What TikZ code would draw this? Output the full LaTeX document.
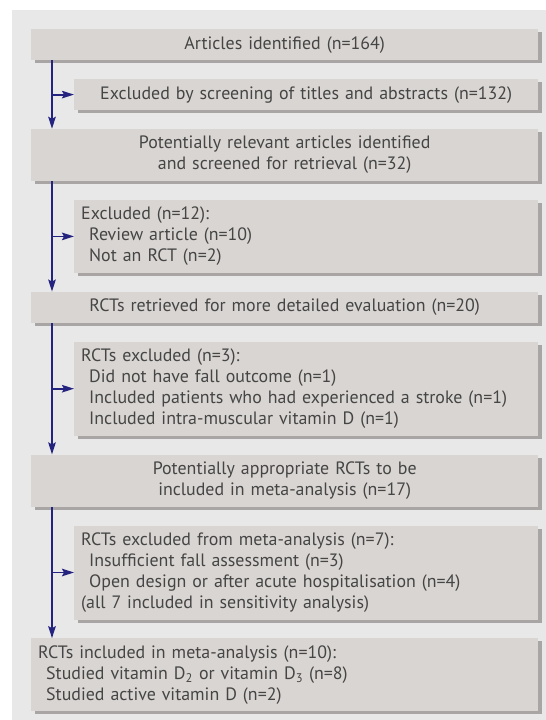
\documentclass[tikz,border=0pt]{standalone}
\usepackage{fontspec}
\setmainfont{PT Sans}
\usetikzlibrary{positioning,arrows.meta,shadows}

\definecolor{panelgray}{HTML}{E8E8E8}
\definecolor{boxgray}{HTML}{D9D5D2}
\definecolor{shadowgray}{HTML}{A9A5A5}
\definecolor{textgray}{HTML}{454545}
\definecolor{flowblue}{HTML}{24237F}

\tikzset{
  every node/.style={font=\fontsize{17.9}{21}\selectfont, text=textgray},
  box/.style={fill=boxgray, inner xsep=7pt, inner ysep=3pt,
    general shadow={fill=shadowgray, shadow xshift=4pt, shadow yshift=-3pt}},
  main/.style={box, text width=493pt, align=center, minimum height=31pt},
  excl/.style={box, text width=450pt, align=left, minimum height=31pt},
  flow/.style={draw=flowblue, line width=1.8pt,
    -{Stealth[length=12pt, width=7.5pt, inset=2pt]}}
}

\newcommand{\ind}{\hspace*{8pt}}

\begin{document}
\begin{tikzpicture}[x=1pt, y=-1pt]
  \useasboundingbox (0,0) rectangle (546,720);
  \fill [panelgray] (12,10) rectangle (546,720);

  \node [main, anchor=north west] (A) at (31,29) {Articles identified (n=164)};
  \node [excl, align=center, below right=18.5pt and 43pt of A.south west] (B)
    {Excluded by screening of titles and abstracts (n=132)};
  \node [main, minimum height=52pt, below right=18.5pt and -43pt of B.south west] (C)
    {Potentially relevant articles identified\\and screened for retrieval (n=32)};
  \node [excl, minimum height=73pt, below right=18.5pt and 43pt of C.south west] (D)
    {Excluded (n=12):\\
     \ind Review article (n=10)\\
     \ind Not an RCT (n=2)};
  \node [main, below right=18.5pt and -43pt of D.south west] (E)
    {RCTs retrieved for more detailed evaluation (n=20)};
  \node [excl, minimum height=94pt, below right=18.5pt and 43pt of E.south west] (F)
    {RCTs excluded (n=3):\\
     \ind Did not have fall outcome (n=1)\\
     \ind Included patients who had experienced a stroke (n=1)\\
     \ind Included intra-muscular vitamin D (n=1)};
  \node [main, minimum height=52pt, below right=18.5pt and -43pt of F.south west] (G)
    {Potentially appropriate RCTs to be\\included in meta-analysis (n=17)};
  \node [excl, minimum height=94pt, below right=18.5pt and 43pt of G.south west] (H)
    {RCTs excluded from meta-analysis (n=7):\\
     \ind Insufficient fall assessment (n=3)\\
     \ind Open design or after acute hospitalisation (n=4)\\
     (all 7 included in sensitivity analysis)};
  \node [main, align=left, minimum height=73pt, below right=18.5pt and -43pt of H.south west] (I)
    {RCTs included in meta-analysis (n=10):\\
     \ind Studied vitamin D\textsubscript{2} or vitamin D\textsubscript{3} (n=8)\\
     \ind Studied active vitamin D (n=2)};

  \coordinate (S) at (52,0);
  \draw [flow] (A.south -| S) -- (C.north -| S);
  \draw [flow] (C.south -| S) -- (E.north -| S);
  \draw [flow] (E.south -| S) -- (G.north -| S);
  \draw [flow] (G.south -| S) -- (I.north -| S);
  \draw [flow] (B.west -| S) -- (B.west);
  \draw [flow] (D.west -| S) -- (D.west);
  \draw [flow] (F.west -| S) -- (F.west);
  \draw [flow] (H.west -| S) -- (H.west);
\end{tikzpicture}
\end{document}
